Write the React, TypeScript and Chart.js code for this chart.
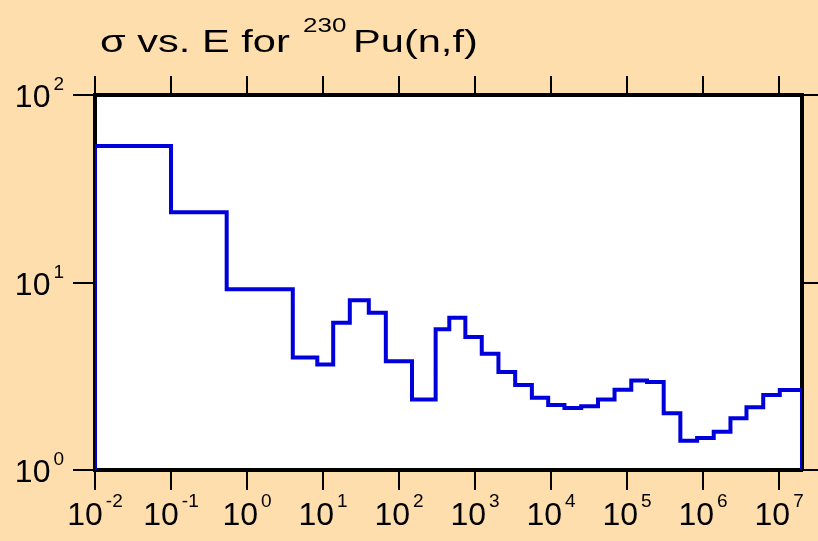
import React, { useEffect, useRef } from 'react';
import { Chart, registerables } from 'chart.js';

Chart.register(...registerables);

// Group boundaries (eV) and cross sections (b)
const binEdges = [
  0.01, 0.1, 0.54, 4.0, 8.4, 13.6, 22.5, 40, 67, 148, 303, 458, 745, 1225, 2030,
  3370, 5590, 9160, 15000, 24900, 41400, 68400, 113500, 183000, 303000, 502000,
  834000, 1.38e6, 2.29e6, 3.72e6, 6.18e6, 1.02e7, 2e7,
];
const crossSection = [
  53.5, 23.7, 9.2, 3.98, 3.65, 6.1, 8.04, 6.9, 3.8, 2.38, 5.63, 6.49, 5.12, 4.17,
  3.33, 2.84, 2.43, 2.22, 2.14, 2.19, 2.38, 2.68, 3.0, 2.95, 2.01, 1.43, 1.48,
  1.6, 1.89, 2.16, 2.51, 2.67,
];

const xTickValues = [1e-2, 1e-1, 1e0, 1e1, 1e2, 1e3, 1e4, 1e5, 1e6, 1e7];
const xTickExponents = ['-2', '-1', '0', '1', '2', '3', '4', '5', '6', '7'];
const yTickValues = [1, 10, 100];
const yTickExponents = ['0', '1', '2'];

const titleMain = 'σ vs. E for';
const titleSup = '230';
const titleTail = 'Pu(n,f)';

const X_MIN = 0.01;
const X_MAX = 2e7;
const Y_MIN = 1;
const Y_MAX = 100;

const FONT = '"Liberation Sans", Arial, Helvetica, sans-serif';
const BG = '#FFDEAD';
const LINE = '#0000DD';

function drawStretched(ctx: CanvasRenderingContext2D, text: string, x: number, y: number, sx: number) {
  ctx.save();
  ctx.translate(x, y);
  ctx.scale(sx, 1);
  ctx.fillText(text, 0, 0);
  ctx.restore();
}

function drawPower(
  ctx: CanvasRenderingContext2D,
  exp: string,
  x: number,
  baseY: number,
  supY: number,
  align: 'center' | 'right'
) {
  ctx.font = `32px ${FONT}`;
  const wMain = ctx.measureText('10').width;
  ctx.font = `19px ${FONT}`;
  const wSup = ctx.measureText(exp).width;
  const gap = 3;
  const total = wMain + gap + wSup;
  const start = align === 'center' ? x - total / 2 : x - total;
  ctx.textAlign = 'left';
  ctx.textBaseline = 'alphabetic';
  ctx.font = `32px ${FONT}`;
  ctx.fillText('10', start, baseY);
  ctx.font = `19px ${FONT}`;
  ctx.fillText(exp, start + wMain + gap, supY);
}

const decorPlugin = {
  id: 'decor',
  beforeDraw(chart: any) {
    const { ctx, chartArea } = chart;
    ctx.save();
    ctx.fillStyle = BG;
    ctx.fillRect(0, 0, chart.width, chart.height);
    ctx.fillStyle = '#FFFFFF';
    ctx.fillRect(chartArea.left, chartArea.top, chartArea.right - chartArea.left, chartArea.bottom - chartArea.top);
    ctx.restore();
  },
  afterDraw(chart: any) {
    const { ctx } = chart;
    const xs = chart.scales.x;
    const ys = chart.scales.y;
    ctx.save();
    ctx.fillStyle = '#000';
    xTickValues.forEach((v, i) => {
      const px = xs.getPixelForValue(v);
      drawPower(ctx, xTickExponents[i], px, 525, 507, 'center');
    });
    yTickValues.forEach((v, i) => {
      const py = ys.getPixelForValue(v);
      drawPower(ctx, yTickExponents[i], 64, py + 12, py - 5, 'right');
    });
    // title
    ctx.textAlign = 'left';
    ctx.textBaseline = 'alphabetic';
    ctx.font = `32px ${FONT}`;
    drawStretched(ctx, titleMain, 100, 52, 1.3);
    ctx.font = `20px ${FONT}`;
    drawStretched(ctx, titleSup, 303, 32, 1.3);
    ctx.font = `32px ${FONT}`;
    drawStretched(ctx, titleTail, 353, 52, 1.3);
    ctx.restore();
  },
};

export default function App() {
  const canvasRef = useRef<HTMLCanvasElement | null>(null);

  useEffect(() => {
    const canvas = canvasRef.current;
    if (!canvas) return;

    const points: { x: number; y: number }[] = [{ x: binEdges[0], y: Y_MIN }];
    crossSection.forEach((v, i) => points.push({ x: binEdges[i], y: v }));
    points.push({ x: binEdges[binEdges.length - 1], y: crossSection[crossSection.length - 1] });
    points.push({ x: binEdges[binEdges.length - 1], y: Y_MIN });

    const tickGrid = (len: number) => ({
      display: true,
      drawOnChartArea: false,
      drawTicks: true,
      tickLength: len,
      tickWidth: 2,
      tickColor: '#000',
      lineWidth: 2,
      color: '#000',
    });
    const border = { display: true, color: '#000', width: 4 };

    const chart = new Chart(canvas, {
      type: 'line',
      data: {
        datasets: [
          {
            data: points,
            borderColor: LINE,
            borderWidth: 4,
            pointRadius: 0,
            fill: false,
            stepped: 'before',
            tension: 0,
            clip: 0,
          } as any,
        ],
      },
      options: {
        responsive: false,
        animation: false,
        devicePixelRatio: 1,
        layout: { padding: 0 },
        plugins: { legend: { display: false }, title: { display: false }, tooltip: { enabled: false } },
        scales: {
          x: {
            type: 'logarithmic',
            position: 'bottom',
            min: X_MIN,
            max: X_MAX,
            ticks: { display: false },
            grid: tickGrid(20),
            border,
            afterBuildTicks: (s: any) => {
              s.ticks = xTickValues.map((v) => ({ value: v }));
            },
            afterFit: (s: any) => {
              s.height = 71;
            },
          },
          x2: {
            type: 'logarithmic',
            axis: 'x',
            position: 'top',
            min: X_MIN,
            max: X_MAX,
            ticks: { display: false },
            grid: tickGrid(19),
            border,
            afterBuildTicks: (s: any) => {
              s.ticks = xTickValues.map((v) => ({ value: v }));
            },
            afterFit: (s: any) => {
              s.height = 95;
            },
          },
          y: {
            type: 'logarithmic',
            position: 'left',
            min: Y_MIN,
            max: Y_MAX,
            ticks: { display: false },
            grid: tickGrid(22),
            border,
            afterBuildTicks: (s: any) => {
              s.ticks = yTickValues.map((v) => ({ value: v }));
            },
            afterFit: (s: any) => {
              s.width = 95;
            },
          },
          y2: {
            type: 'logarithmic',
            axis: 'y',
            position: 'right',
            min: Y_MIN,
            max: Y_MAX,
            ticks: { display: false },
            grid: tickGrid(16),
            border,
            afterBuildTicks: (s: any) => {
              s.ticks = yTickValues.map((v) => ({ value: v }));
            },
            afterFit: (s: any) => {
              s.width = 16;
            },
          },
        } as any,
      },
      plugins: [decorPlugin],
    });

    return () => chart.destroy();
  }, []);

  return (
    <div style={{ position: 'absolute', left: 0, top: 0, width: 818, height: 541, background: BG }}>
      <canvas ref={canvasRef} width={818} height={541} style={{ display: 'block', width: 818, height: 541 }} />
    </div>
  );
}
